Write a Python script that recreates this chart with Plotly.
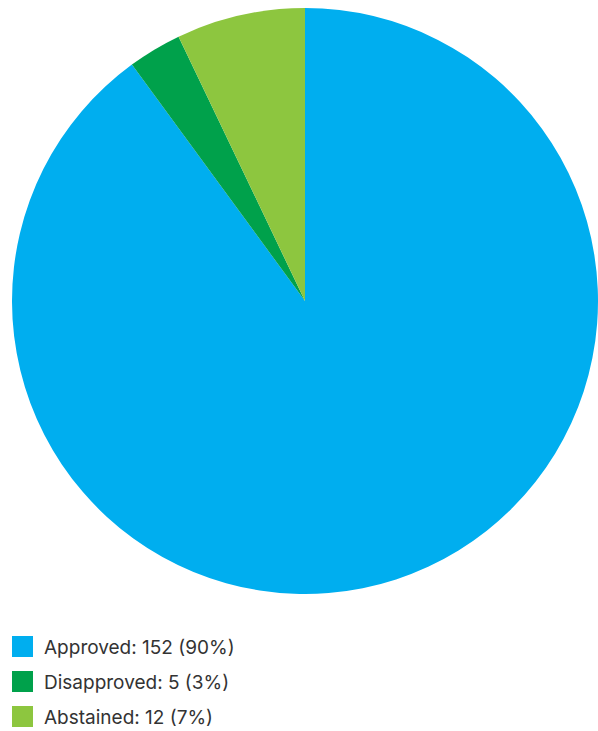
import plotly.graph_objects as go

# Vote breakdown
labels = ["Approved", "Disapproved", "Abstained"]
values = [152, 5, 12]
colors = ["#00AEEF", "#00A14B", "#8DC63F"]

W, H = 598, 731
total = sum(values)

fig = go.Figure(go.Pie(
    labels=labels,
    values=values,
    marker=dict(colors=colors, line=dict(width=0)),
    sort=False,
    direction="clockwise",
    rotation=0,
    textinfo="none",
    hoverinfo="label+value+percent",
    showlegend=False,
    domain=dict(x=[12 / W, 598 / W], y=[1 - 594 / H, 1 - 8 / H]),
))

# Custom legend: square swatch + "label: value (pct%)"
shapes = []
annotations = []
top0, step, box = 636, 35, 21
for i, (lab, val, col) in enumerate(zip(labels, values, colors)):
    y0 = top0 + i * step
    shapes.append(dict(
        type="rect", xref="paper", yref="paper",
        x0=12 / W, x1=(12 + box) / W,
        y0=1 - (y0 + box) / H, y1=1 - y0 / H,
        fillcolor=col, line=dict(width=0),
    ))
    pct = round(val / total * 100)
    annotations.append(dict(
        text=f"{lab}: {val} ({pct}%)",
        xref="paper", yref="paper",
        x=42 / W, y=1 - (y0 + box / 2 + 1) / H,
        xanchor="left", yanchor="middle",
        showarrow=False,
        font=dict(family="Inter, Open Sans, sans-serif", size=19, color="#333333"),
    ))

fig.update_layout(
    width=W, height=H,
    margin=dict(l=0, r=0, t=0, b=0),
    paper_bgcolor="white",
    plot_bgcolor="white",
    shapes=shapes,
    annotations=annotations,
)

fig.write_html("out.html")
